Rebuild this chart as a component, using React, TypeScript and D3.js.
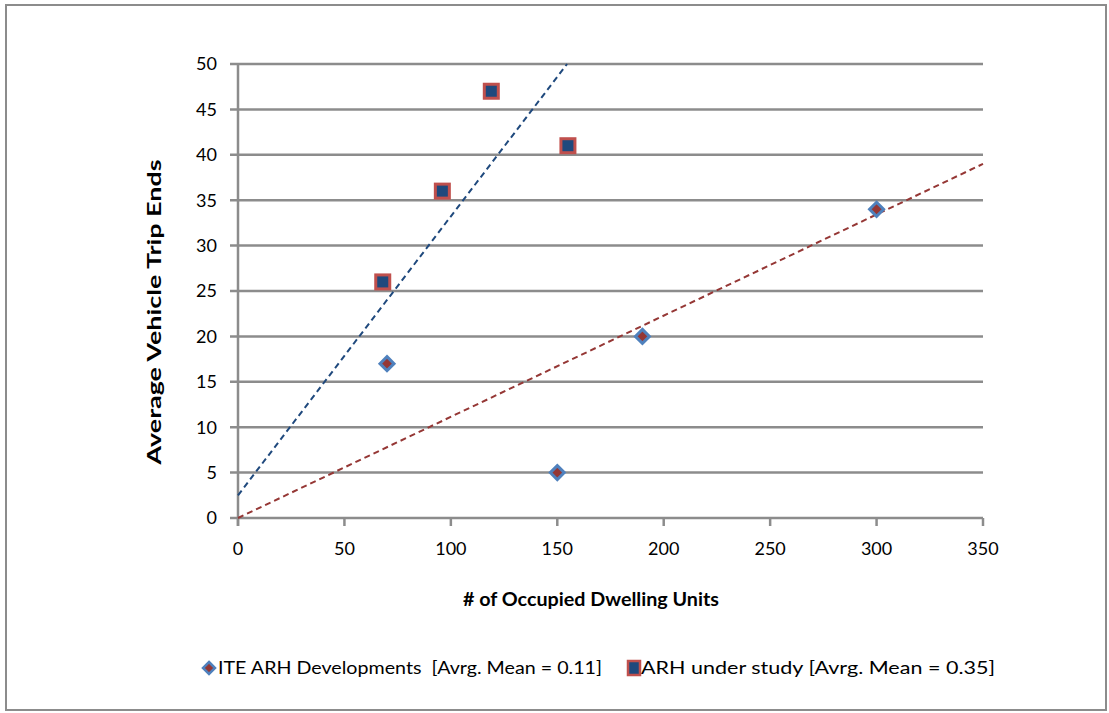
import React from "react";
import * as d3 from "d3";

// ITE ARH developments: dwelling units vs. average vehicle trip ends
const iteUnits = [70, 150, 190, 300];
const iteTrips = [17, 5, 20, 34];

// ARH developments under study
const arhUnits = [68, 96, 119, 155];
const arhTrips = [26, 36, 47, 41];

// Trend lines (start and end points in data units)
const iteTrend: [number, number][] = [[0, 0], [350, 39]];
const arhTrend: [number, number][] = [[0, 2.5], [154.6, 50]];

const xTicks = [0, 50, 100, 150, 200, 250, 300, 350];
const yTicks = [0, 5, 10, 15, 20, 25, 30, 35, 40, 45, 50];

const legendLabels = [
  "ITE ARH Developments  [Avrg. Mean = 0.11]",
  "ARH under study [Avrg. Mean = 0.35]",
];

const W = 1109;
const H = 713;
const FONT = "Lato, 'Open Sans', sans-serif";
const GRID = "#8c8c8c";
const NAVY = "#1f497d";
const BRICK = "#953735";
const SKY = "#4f81bd";
const ROSE = "#c0504d";

export default function App() {
  const x = d3.scaleLinear().domain([0, 350]).range([238, 983]);
  const y = d3.scaleLinear().domain([0, 50]).range([518, 64]);
  const line = d3
    .line<[number, number]>()
    .x((d) => x(d[0]))
    .y((d) => y(d[1]));

  const diamond = (cx: number, cy: number, r: number) =>
    `M${cx},${cy - r}L${cx + r},${cy}L${cx},${cy + r}L${cx - r},${cy}Z`;

  return (
    <svg
      width={W}
      height={H}
      style={{ position: "absolute", left: 0, top: 0, background: "#fff" }}
      fontFamily={FONT}
    >
      <rect x={6} y={5} width={1100} height={705} fill="#fff" stroke={GRID} strokeWidth={2} />

      {/* horizontal gridlines with left tick stubs */}
      {yTicks.map((t) => (
        <line key={`g${t}`} x1={230} x2={983} y1={y(t)} y2={y(t)} stroke={GRID} strokeWidth={2.5} />
      ))}
      {/* x tick stubs */}
      {xTicks.map((t) => (
        <line key={`xt${t}`} x1={x(t)} x2={x(t)} y1={518} y2={526} stroke={GRID} strokeWidth={2.5} />
      ))}
      {/* y axis */}
      <line x1={238} x2={238} y1={64} y2={526} stroke={GRID} strokeWidth={2.5} />

      {yTicks.map((t) => (
        <text key={`yl${t}`} x={217} y={y(t)} dy="0.36em" textAnchor="end" fontSize={18} fill="#000">
          {t}
        </text>
      ))}
      {xTicks.map((t) => (
        <text key={`xl${t}`} x={x(t)} y={555} textAnchor="middle" fontSize={18} fill="#000">
          {t}
        </text>
      ))}

      <text
        transform="translate(161,312) rotate(-90)"
        textAnchor="middle"
        fontSize={18}
        fontWeight="bold"
        fill="#000"
        textLength={305}
        lengthAdjust="spacingAndGlyphs"
      >
        Average Vehicle Trip Ends
      </text>
      <text
        x={591}
        y={606}
        textAnchor="middle"
        fontSize={18}
        fontWeight="bold"
        fill="#000"
        textLength={256}
        lengthAdjust="spacingAndGlyphs"
      >
        # of Occupied Dwelling Units
      </text>

      {/* trend lines */}
      <path d={line(iteTrend) || ""} fill="none" stroke={BRICK} strokeWidth={2} strokeDasharray="6,4" />
      <path d={line(arhTrend) || ""} fill="none" stroke={NAVY} strokeWidth={2} strokeDasharray="6,4" />

      {/* ITE diamonds */}
      {iteUnits.map((u, i) => (
        <path key={`d${i}`} d={diamond(x(u), y(iteTrips[i]), 7)} fill={BRICK} stroke={SKY} strokeWidth={3} />
      ))}
      {/* ARH squares */}
      {arhUnits.map((u, i) => (
        <rect
          key={`s${i}`}
          x={x(u) - 7}
          y={y(arhTrips[i]) - 7}
          width={14}
          height={14}
          fill={NAVY}
          stroke={ROSE}
          strokeWidth={3}
        />
      ))}

      {/* legend */}
      <path d={diamond(209, 668, 6)} fill={BRICK} stroke={SKY} strokeWidth={2.5} />
      <text
        x={218}
        y={668}
        dy="0.36em"
        fontSize={18}
        fill="#000"
        style={{ whiteSpace: "pre" }}
        textLength={384}
        lengthAdjust="spacingAndGlyphs"
      >
        {legendLabels[0]}
      </text>
      <rect x={628} y={661} width={12} height={14} fill={NAVY} stroke={ROSE} strokeWidth={2.5} />
      <text
        x={641}
        y={668}
        dy="0.36em"
        fontSize={18}
        fill="#000"
        textLength={354}
        lengthAdjust="spacingAndGlyphs"
      >
        {legendLabels[1]}
      </text>
    </svg>
  );
}
